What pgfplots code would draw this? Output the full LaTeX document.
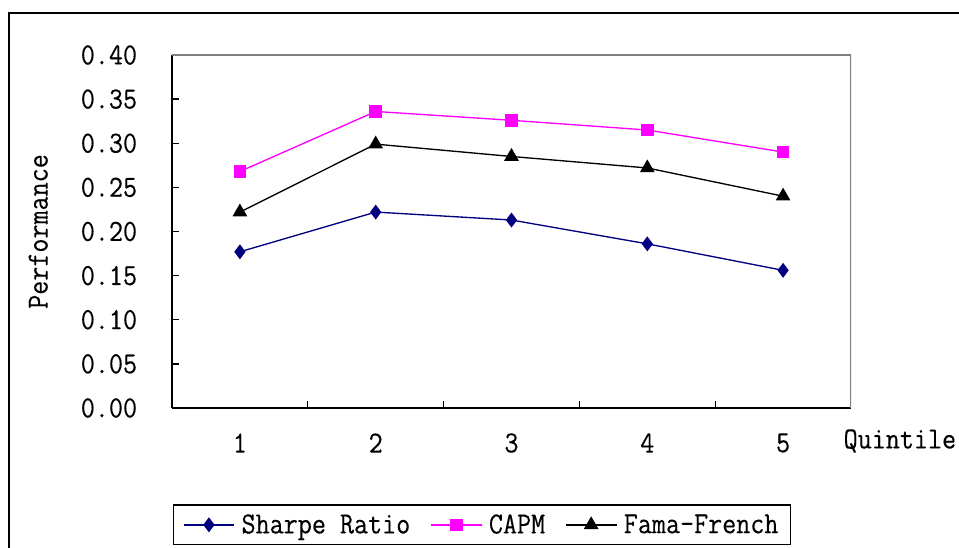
\documentclass[border=0pt]{standalone}
\usepackage{fontspec}
\usepackage{pgfplots}
\pgfplotsset{compat=1.18}

\newfontfamily\chartmono{Latin Modern Mono}[FakeStretch=0.89, FakeBold=0.25]

\definecolor{navyline}{HTML}{000080}
\definecolor{pinkline}{HTML}{FF00FF}
\definecolor{frame}{HTML}{808080}

\newcommand{\chartfont}{\chartmono\fontsize{23}{26}\selectfont}

\begin{document}
\begin{tikzpicture}
% page = 959 x 548 px at 0.75pt per px; plot box lower left at px (172,408)
\path[use as bounding box] (-129pt,-105pt) rectangle (590.25pt,306pt);
\draw[line width=1.5pt] (-122.25pt,-110pt) -- (-122.25pt,296.25pt) -- (600pt,296.25pt);

\begin{axis}[
    at={(0,0)}, anchor=south west,
    scale only axis,
    width=509.25pt, height=264.75pt,
    xmin=0.5, xmax=5.5,
    ymin=0, ymax=0.40,
    axis lines*=left,
    axis line style={line width=1.3pt},
    xtick={1,2,3,4,5},
    minor xtick={1.5,2.5,3.5,4.5},
    major x tick style={draw=none},
    ytick={0,0.05,...,0.40},
    tick align=inside,
    major tick length=5pt, minor tick length=5pt,
    tick style={line width=1pt, black},
    /pgf/number format/assume math mode=true,
    yticklabel={\pgfmathprintnumber[fixed, fixed zerofill, precision=2]{\tick}},
    ticklabel style={font=\chartfont},
    yticklabel style={anchor=east, inner sep=0pt, xshift=-26pt},
    xticklabel style={anchor=center, inner sep=0pt, yshift=-26.25pt},
    xlabel={Quintile},
    xlabel style={at={(axis description cs:1.072,-0.0935)}, anchor=center, font=\chartfont, inner sep=0pt},
    ylabel={Performance},
    ylabel style={at={(axis description cs:-0.197,0.5)}, anchor=center, rotate=0, font=\chartfont, inner sep=0pt},
    legend columns=3,
    legend style={at={(axis description cs:0.4566,-0.331)}, anchor=center,
        draw=black, line width=1pt, font=\chartfont,
        inner xsep=7pt, inner ysep=5pt,
        /tikz/every odd column/.append style={column sep=3pt},
        /tikz/every even column/.append style={column sep=13pt}},
    legend image code/.code={
        \draw[#1, line width=1pt, mark repeat=2, mark phase=2]
            plot coordinates {(0pt,0pt) (19pt,0pt) (38pt,0pt)};
    },
]
\addplot[navyline, line width=1pt, mark=diamond*, mark size=4.8pt] coordinates {
    (1,0.177) (2,0.222) (3,0.213) (4,0.186) (5,0.156)
};
\addlegendentry{Sharpe Ratio}
\addplot[pinkline, line width=1pt, mark=square*, mark size=4.2pt] coordinates {
    (1,0.268) (2,0.336) (3,0.326) (4,0.315) (5,0.290)
};
\addlegendentry{CAPM}
\addplot[black, line width=1pt, mark=triangle*, mark size=5.4pt] coordinates {
    (1,0.222) (2,0.299) (3,0.285) (4,0.272) (5,0.240)
};
\addlegendentry{Fama-French}
\draw[frame, line width=1pt] (rel axis cs:0,1) -- (rel axis cs:1,1) -- (rel axis cs:1,0);
\end{axis}
\end{tikzpicture}
\end{document}
